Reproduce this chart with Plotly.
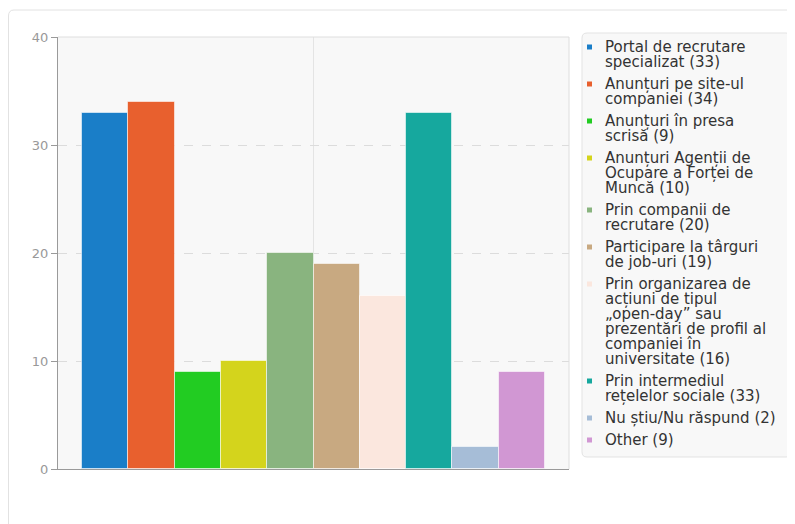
import plotly.graph_objects as go

# ---- data ----
categories = [
    "Portal de recrutare\nspecializat",
    "Anunțuri pe site-ul\ncompaniei",
    "Anunțuri în presa\nscrisă",
    "Anunțuri Agenții de\nOcupare a Forței de\nMuncă",
    "Prin companii de\nrecrutare",
    "Participare la târguri\nde job-uri",
    "Prin organizarea de\nacțiuni de tipul\n„open-day” sau\nprezentări de profil al\ncompaniei în\nuniversitate",
    "Prin intermediul\nrețelelor sociale",
    "Nu știu/Nu răspund",
    "Other",
]
values = [33, 34, 9, 10, 20, 19, 16, 33, 2, 9]
colors = ["#1a7ec8", "#e8602e", "#22cc22", "#d4d41c", "#89b47f",
          "#c8a981", "#fbe7de", "#16a89e", "#a6bdd7", "#d197d3"]
y_ticks = [0, 10, 20, 30, 40]

# ---- layout geometry (page pixels) ----
PAGE_W, PAGE_H = 795, 524
OFF = 8  # default body margin of the html page
L, R, T, B = 58, 569, 37, 469


def px(x):
    return (x - L) / (R - L)


def py(y):
    return (B - y) / (B - T)


fig = go.Figure()
fig.add_trace(go.Bar(
    x=list(range(len(values))),
    y=values,
    width=1,
    marker=dict(color=colors, line=dict(color="rgba(255,255,255,0.55)", width=1)),
    showlegend=False,
    hoverinfo="y",
))

shapes = []
annotations = []

# card border
shapes.append(dict(type="path", xref="paper", yref="paper",
                   path=f"M {px(8.5)},{py(530)} L {px(8.5)},{py(16)} Q {px(8.5)},{py(10)} {px(14)},{py(10)} L {px(805)},{py(10)}",
                   line=dict(color="#e2e2e2", width=1), layer="below"))

# plot area top/right light border
shapes.append(dict(type="line", xref="paper", yref="paper", x0=1, x1=1, y0=0, y1=1,
                   line=dict(color="#dedede", width=1)))
shapes.append(dict(type="line", xref="paper", yref="paper", x0=0, x1=1, y0=1, y1=1,
                   line=dict(color="#dedede", width=1)))

# legend box
lx0, lx1, ly0, ly1, r = 582, 791, 33, 457, 5
path = (f"M {px(lx0 + r)},{py(ly0)} L {px(lx1 - r)},{py(ly0)} Q {px(lx1)},{py(ly0)} {px(lx1)},{py(ly0 + r)} "
        f"L {px(lx1)},{py(ly1 - r)} Q {px(lx1)},{py(ly1)} {px(lx1 - r)},{py(ly1)} "
        f"L {px(lx0 + r)},{py(ly1)} Q {px(lx0)},{py(ly1)} {px(lx0)},{py(ly1 - r)} "
        f"L {px(lx0)},{py(ly0 + r)} Q {px(lx0)},{py(ly0)} {px(lx0 + r)},{py(ly0)} Z")
shapes.append(dict(type="path", xref="paper", yref="paper", path=path,
                   fillcolor="#f8f8f8", line=dict(color="#e3e3e3", width=1), layer="below"))

# legend entries
line_h = 15
item_gap = 22
ycur = 47
for cat, val, col in zip(categories, values, colors):
    lines = (cat + f" ({val})").split("\n")
    shapes.append(dict(type="rect", xref="paper", yref="paper",
                       x0=px(587), x1=px(592), y0=py(ycur + 2.5), y1=py(ycur - 2.5),
                       fillcolor=col, line=dict(width=0)))
    for i, ln in enumerate(lines):
        yy = ycur + i * line_h
        annotations.append(dict(xref="paper", yref="paper", x=px(603), y=py(yy),
                                xanchor="left", yanchor="middle", text=ln, showarrow=False,
                                font=dict(family="DejaVu Sans", size=15, color="#333333")))
    ycur = ycur + (len(lines) - 1) * line_h + item_gap

fig.update_layout(
    width=PAGE_W - OFF, height=PAGE_H - OFF,
    margin=dict(l=L - OFF, r=PAGE_W - R, t=T - OFF, b=PAGE_H - B, pad=0),
    paper_bgcolor="white",
    plot_bgcolor="#f8f8f8",
    bargap=0,
    shapes=shapes,
    annotations=annotations,
    font=dict(family="DejaVu Sans", size=13, color="#999999"),
    xaxis=dict(range=[-1.02, 10.02], tickvals=[4.5], showticklabels=False, ticks="",
               showgrid=True, gridcolor="#e4e4e4", gridwidth=1, zeroline=False,
               showline=True, linecolor="#9a9a9a", linewidth=1, fixedrange=True),
    yaxis=dict(range=[0, 40], tickvals=y_ticks, ticks="outside", ticklen=6, tickcolor="#9a9a9a",
               showgrid=True, gridcolor="#dcdcdc", griddash="dash", gridwidth=1, zeroline=False,
               showline=True, linecolor="#9a9a9a", linewidth=1,
               tickfont=dict(family="DejaVu Sans", size=13, color="#999999"), fixedrange=True),
)

fig.write_html("out.html")
